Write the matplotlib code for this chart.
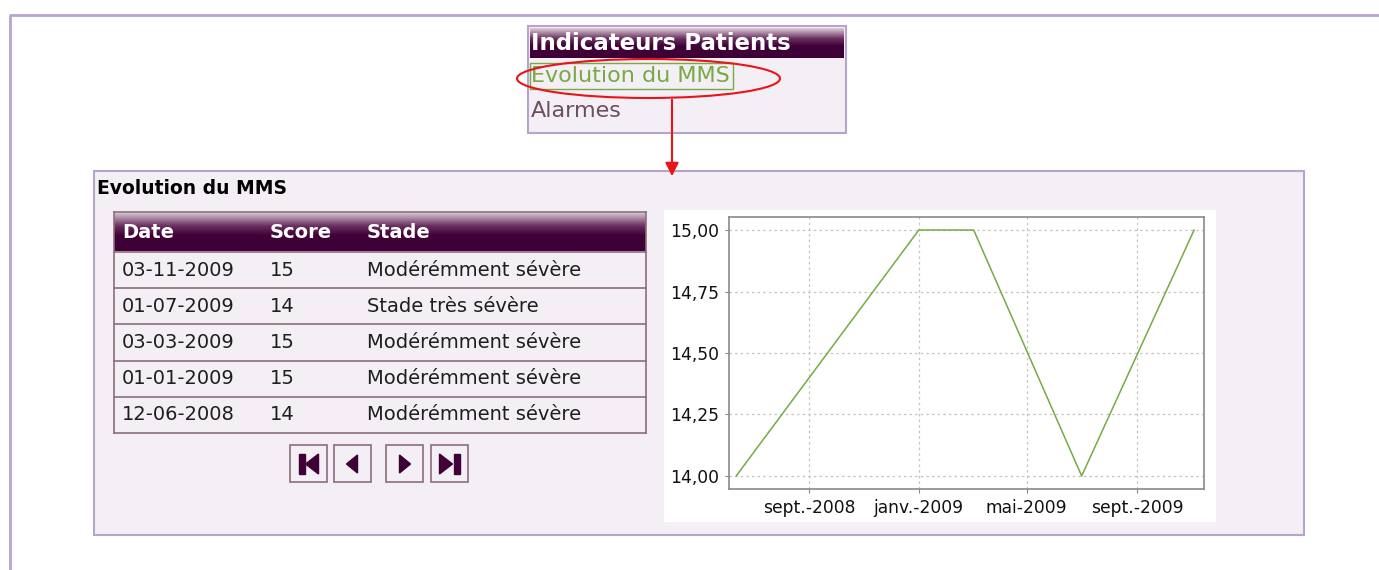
"""Screenshot-style recreation: 'Indicateurs Patients' menu + MMS table and chart."""
from datetime import datetime

import matplotlib

matplotlib.use("Agg")
import matplotlib.dates as mdates
import matplotlib.pyplot as plt
import numpy as np
from matplotlib.colors import LinearSegmentedColormap
from matplotlib.patches import Ellipse, Polygon, Rectangle

# --- data -------------------------------------------------------------------
MENU_TITLE = "Indicateurs Patients"
MENU_ITEMS = ["Evolution du MMS", "Alarmes"]
PANEL_TITLE = "Evolution du MMS"
COLUMNS = ["Date", "Score", "Stade"]
DATES = ["03-11-2009", "01-07-2009", "03-03-2009", "01-01-2009", "12-06-2008"]
SCORES = [15, 14, 15, 15, 14]
STADES = ["Modérémment sévère", "Stade très sévère", "Modérémment sévère",
          "Modérémment sévère", "Modérémment sévère"]
Y_TICKS = [14.00, 14.25, 14.50, 14.75, 15.00]
MONTHS_FR = {1: "janv.", 5: "mai", 9: "sept."}

# --- colours ----------------------------------------------------------------
LAVENDER = "#b6a4cf"
PANEL_BG = "#f4eff4"
TABLE_EDGE = "#8c6e7c"
DARK = "#3f0037"
GREEN = "#77a944"
FONT = "DejaVu Sans"

W, H = 1379, 570
fig = plt.figure(figsize=(W / 100, H / 100), dpi=100)
bg = fig.add_axes([0, 0, 1, 1])
bg.set_xlim(0, W)
bg.set_ylim(H, 0)
bg.axis("off")

header_cmap = LinearSegmentedColormap.from_list(
    "hdr", [(0, "#dccbd6"), (0.35, "#6a3060"), (0.6, DARK), (1, DARK)])
grad = np.linspace(0, 1, 64).reshape(-1, 1)


def header_bar(x0, x1, y0, y1):
    bg.imshow(grad, cmap=header_cmap, aspect="auto", extent=(x0, x1, y1, y0),
              zorder=2, interpolation="bilinear")


def box(x0, y0, x1, y1, fc, ec, lw, z=1):
    bg.add_patch(Rectangle((x0, y0), x1 - x0, y1 - y0, facecolor=fc,
                           edgecolor=ec, linewidth=lw, zorder=z))


# page frame
bg.plot([10, 10, W], [H, 15, 15], color=LAVENDER, lw=2, zorder=1)

# menu box
box(528, 26, 846, 133, PANEL_BG, LAVENDER, 1.5)
header_bar(530, 844, 28, 58)
bg.text(531, 43, MENU_TITLE, color="white", fontsize=16.5, fontweight="bold",
        va="center", family=FONT, zorder=3)
bg.text(531, 76, MENU_ITEMS[0], color=GREEN, fontsize=16, va="center",
        family=FONT, zorder=3)
bg.add_patch(Rectangle((530, 63), 203, 26, fill=False, edgecolor=GREEN,
                       linewidth=1, zorder=3))
bg.text(531, 111, MENU_ITEMS[1], color="#6d4e63", fontsize=16, va="center",
        family=FONT, zorder=3)
bg.add_patch(Ellipse((648.5, 78.5), 263, 39, fill=False, edgecolor="#e8141a",
                     linewidth=1.5, zorder=4))
bg.annotate("", xy=(672, 179), xytext=(672, 97),
            arrowprops=dict(arrowstyle="-|>", color="#e8141a", lw=1.5,
                            mutation_scale=20), zorder=4)

# main panel
box(94, 171, 1304, 535, PANEL_BG, LAVENDER, 1.5)
bg.text(97, 189, PANEL_TITLE, color="black", fontsize=13.5, fontweight="bold",
        va="center", family=FONT, zorder=3)

# table
TX0, TX1 = 114, 646
row_edges = [252, 288, 324, 361, 397, 433]
col_x = [122, 270, 367]
header_bar(TX0, TX1, 212, 251)
for cx, name in zip(col_x, COLUMNS):
    bg.text(cx, 232, name, color="white", fontsize=14, fontweight="bold",
            va="center", family=FONT, zorder=3)
for i, (d, s, st) in enumerate(zip(DATES, SCORES, STADES)):
    yc = (row_edges[i] + row_edges[i + 1]) / 2
    for cx, val in zip(col_x, (d, str(s), st)):
        bg.text(cx, yc, val, color="#1e1e1e", fontsize=14, va="center",
                family=FONT, zorder=3)
for y in row_edges:
    bg.plot([TX0, TX1], [y, y], color=TABLE_EDGE, lw=1.2, zorder=3)
bg.plot([TX0, TX0], [212, 433], color=TABLE_EDGE, lw=1.2, zorder=3)
bg.plot([TX1, TX1], [212, 433], color=TABLE_EDGE, lw=1.2, zorder=3)
bg.plot([TX0, TX1], [212, 212], color=TABLE_EDGE, lw=1.2, zorder=3)

# pager buttons
buttons = [(290, 327, "first"), (334, 371, "prev"), (386, 423, "next"), (431, 468, "last")]
for x0, x1, kind in buttons:
    box(x0, 445, x1, 482, PANEL_BG, TABLE_EDGE, 1.2, z=3)
    cx = (x0 + x1) / 2
    if kind == "first":
        tri = [(cx + 10, 454), (cx + 10, 474), (cx - 3, 464)]
        bg.add_patch(Rectangle((cx - 10, 454), 6, 20, color=DARK, zorder=4))
    elif kind == "prev":
        tri = [(cx + 5, 455), (cx + 5, 473), (cx - 6, 464)]
    elif kind == "next":
        tri = [(cx - 5, 455), (cx - 5, 473), (cx + 6, 464)]
    else:
        tri = [(cx - 10, 454), (cx - 10, 474), (cx + 3, 464)]
        bg.add_patch(Rectangle((cx + 4, 454), 6, 20, color=DARK, zorder=4))
    bg.add_patch(Polygon(tri, closed=True, color=DARK, zorder=4))

# chart background
box(664, 210, 1216, 522, "white", "none", 0, z=2)

# --- chart ------------------------------------------------------------------
ax_l, ax_r, ax_t, ax_b = 729, 1204, 217, 489
ax = fig.add_axes([ax_l / W, 1 - ax_b / H, (ax_r - ax_l) / W, (ax_b - ax_t) / H])
ax.set_facecolor("white")

pts = sorted(zip([datetime.strptime(d, "%d-%m-%Y") for d in DATES], SCORES))
xs = [p[0] for p in pts]
ys = [p[1] for p in pts]
ax.plot(xs, ys, color=GREEN, lw=1.1)

ax.set_xlim(datetime(2008, 6, 4), datetime(2009, 11, 14))
ax.set_ylim(13.947, 15.053)
ax.set_yticks(Y_TICKS)
ax.set_yticklabels([f"{v:.2f}".replace(".", ",") for v in Y_TICKS])
ax.xaxis.set_major_locator(mdates.MonthLocator(bymonth=[1, 5, 9]))
ax.xaxis.set_major_formatter(
    plt.FuncFormatter(lambda v, _: "{}-{}".format(
        MONTHS_FR[mdates.num2date(v).month], mdates.num2date(v).year)))
ax.grid(True, color="#c4c4c4", linestyle=(0, (2, 2.5)), linewidth=0.9)
for sp in ax.spines.values():
    sp.set_color("#8a8a8a")
    sp.set_linewidth(1.2)
ax.tick_params(length=3, color="#8a8a8a", labelsize=12.3, pad=4,
               labelcolor="#111111")
for lab in ax.get_xticklabels() + ax.get_yticklabels():
    lab.set_family(FONT)

fig.savefig("out.png", dpi=100)
